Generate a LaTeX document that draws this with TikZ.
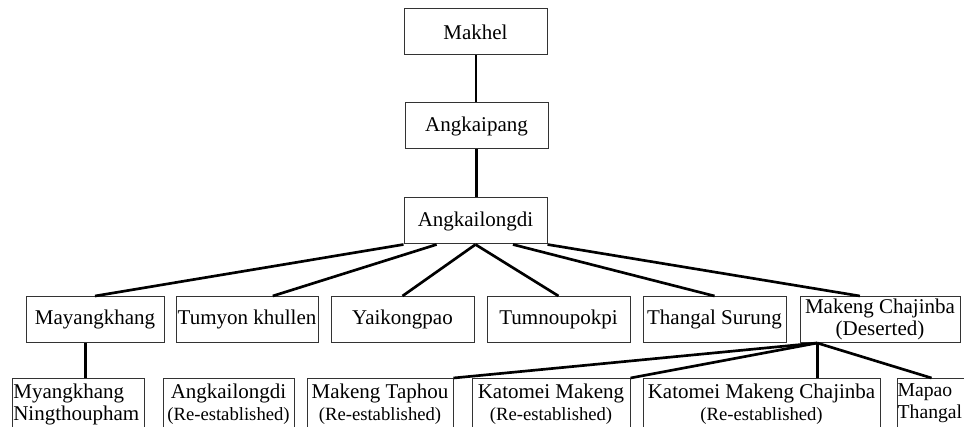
\documentclass[tikz,border=0pt]{standalone}
\usepackage{fontspec}
\setmainfont{Liberation Serif}
\usetikzlibrary{calc}
\tikzset{
  every node/.style={
    font=\fontsize{15.75}{16.5}\selectfont
  },
  village/.style={
    shape=rectangle,
    draw=black!80,
    line width=0.75pt,
    inner sep=1pt,
    minimum width=#1*0.75pt,
    minimum height=34.5pt,
    align=center
  },
  newvillage/.style={
    shape=rectangle,
    draw=black!80,
    line width=0.75pt,
    anchor=north,
    inner xsep=1pt,
    inner ysep=4pt,
    minimum width=#1*0.75pt,
    align=center
  },
  link/.style={
    line width=2pt
  }
}
\newcommand{\reest}{{\fontsize{14}{16.5}\selectfont(Re-established)}}

\begin{document}
\begin{tikzpicture}[x=0.75pt,y=-0.75pt]
    \clip (0,0) rectangle (964,427);
    % main line
    \node[village=143] (makhel) at (475.5,32) {Makhel};
    \node[village=143] (angkaipang) at (476.5,126) {Angkaipang};
    \node[village=143] (angkailongdi) at (475.5,221) {Angkailongdi};
    % villages from Angkailongdi
    \node[village=138] (mayangkhang) at (95,319.5) {Mayangkhang};
    \node[village=142] (tumyon) at (247,319.5) {Tumyon khullen};
    \node[village=143] (yaikongpao) at (402.5,319.5) {Yaikongpao};
    \node[village=143] (tumnoupokpi) at (558.5,319.5) {Tumnoupokpi};
    \node[village=143] (thangal) at (714.5,319.5) {Thangal Surung};
    \node[village=160] (makeng) at (880,319.5) {Makeng Chajinba\\(Deserted)};
    % last row
    \node[newvillage=132, text width=97pt, align=left] (myangkhang) at (78,378) {Myangkhang\\Ningthoupham};
    \node[newvillage=131] (angkailongdiRe) at (228.5,378) {Angkailongdi\\\reest};
    \node[newvillage=146] (taphou) at (380,378) {Makeng Taphou\\\reest};
    \node[newvillage=158] (katomei) at (551,378) {Katomei Makeng\\\reest};
    \node[newvillage=237] (katomeiChajinba) at (761.5,378) {Katomei Makeng Chajinba\\\reest};
    \node[newvillage=102, text width=75.5pt, inner xsep=0.5pt, align=left,
          font=\fontsize{14.75}{16.5}\selectfont] (mapao) at (948,378) {Mapao\\Thangal};

    \draw[line width=1.5pt] (makhel.south) -- (makhel.south |- angkaipang.north);
    \draw[link] (angkaipang.south) -- (angkaipang.south |- angkailongdi.north);

    \draw[link] (angkailongdi.south west) -- (mayangkhang.north);
    \draw[link] ($(angkailongdi.south west)!.23!(angkailongdi.south east)$) -- ($(tumyon.north west)!.68!(tumyon.north east)$);
    \draw[link] (angkailongdi.south) -- (yaikongpao.north);
    \draw[link] (angkailongdi.south) -- (tumnoupokpi.north);
    \draw[link] ($(angkailongdi.south west)!.76!(angkailongdi.south east)$) -- (thangal.north);
    \draw[link] (angkailongdi.south east) -- ($(makeng.north west)!.375!(makeng.north east)$);

    \coordinate (split) at ($(mayangkhang.south west)!.43!(mayangkhang.south east)$);
    \draw[link] (split) -- (split |- myangkhang.north);

    \coordinate (fork) at ($(makeng.south west)!.11!(makeng.south east)$);
    \draw[link] (fork) -- (taphou.north east);
    \draw[link] (fork) -- (katomei.north east);
    \draw[link] (fork) -- (fork |- katomeiChajinba.north);
    \draw[link] (fork) -- ($(mapao.north west)!.34!(mapao.north east)$);
\end{tikzpicture}
\end{document}
